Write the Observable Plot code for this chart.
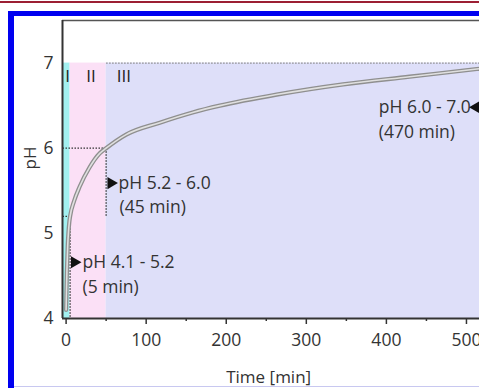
<!DOCTYPE html>
<html><head><meta charset="utf-8">
<script src="https://cdn.jsdelivr.net/npm/d3@7"></script>
<script src="https://cdn.jsdelivr.net/npm/@observablehq/plot@0.6"></script>
<style>
html,body{margin:0;padding:0;background:#fff;width:479px;height:388px;overflow:hidden;position:relative;font-family:"Open Sans",sans-serif}
#chart{position:absolute;left:0;top:0;width:514px}
#chart svg{max-width:none !important;display:block}
#red{position:absolute;left:0;top:1px;width:479px;height:2px;background:#9c1f33}
#blueTop{position:absolute;left:8px;top:11px;width:480px;height:5px;background:#0000f0}
#blueLeft{position:absolute;left:8px;top:11px;width:6px;height:390px;background:#0000f0}
#bottomLine{position:absolute;left:14px;top:386px;width:470px;height:1px;background:#c8c8f0}
</style></head><body>
<div id="chart"></div>
<div id="red"></div><div id="blueTop"></div><div id="blueLeft"></div><div id="bottomLine"></div>
<script>
// ---- data ----
const times = [0, 1, 2, 3, 4, 5, 10, 17, 29, 42, 50, 75, 117, 158, 192, 263, 346, 429, 513, 530];
const pHs   = [4.1, 4.55, 4.85, 5.02, 5.13, 5.2, 5.38, 5.55, 5.77, 5.94, 6.0, 6.16, 6.30, 6.42, 6.50, 6.63, 6.75, 6.84, 6.93, 6.95];

const xMin = -4.5, xMax = 560, yMin = 4, yMax = 7.5;
const phaseNames = ["I", "II", "III"];
const phaseFrom = [xMin, 5, 50];
const phaseTo = [5, 50, xMax];
const phaseTop = [7, 7, 7];
const phaseColors = ["#a2f0f0", "#fbe0f6", "#dedff9"];
const phaseLabelT = [2, 31, 72];
const phaseLabelPH = [6.84, 6.84, 6.84];

const xTicks = [0, 100, 200, 300, 400, 500];
const xMinorTicks = [50, 150, 250, 350, 450];
const yTicks = [4, 5, 6, 7];

// dotted guide lines
const dotX1 = [xMin, 50, xMin, 5, 50];
const dotY1 = [6, 6, 5.2, 5.2, 7];
const dotX2 = [50, 50, 5, 5, xMax];
const dotY2 = [6, 5.2, 5.2, 4, 7];
const dotColor = ["#333", "#333", "#333", "#333", "#8a8a8a"];

// annotations (left-anchored)
const annText = ["pH 4.1 - 5.2", "(5 min)", "pH 5.2 - 6.0", "(45 min)", "(470 min)"];
const annT = [20.5, 20.5, 65.5, 66.8, 390.5];
const annPH = [4.66, 4.37, 5.59, 5.31, 6.18];
// annotation (right-anchored)
const annEndText = ["pH 6.0 - 7.0"];
const annEndT = [505.5];
const annEndPH = [6.48];

const arrowT = [10.5, 56, 512];
const arrowPH = [4.66, 5.59, 6.48];
const arrowRotate = [90, 90, -90];

const curve = times.map((t, i) => ({t, pH: pHs[i]}));
const idx = a => a.map((_, i) => i);

const chart = Plot.plot({
  width: 514, height: 388,
  marginLeft: 62, marginRight: 0, marginTop: 20, marginBottom: 70,
  x: {domain: [xMin, xMax]},
  y: {domain: [yMin, yMax]},
  style: {fontFamily: "'Open Sans', sans-serif", color: "#333", background: "transparent", maxWidth: "none"},
  marks: [
    Plot.rect(idx(phaseNames), {x1: i => phaseFrom[i], x2: i => phaseTo[i], y1: yMin, y2: i => phaseTop[i], fill: i => phaseColors[i]}),
    Plot.link(idx(dotX1), {x1: i => dotX1[i], y1: i => dotY1[i], x2: i => dotX2[i], y2: i => dotY2[i], stroke: i => dotColor[i], strokeWidth: 1.3, strokeDasharray: "1.5,1.5"}),
    Plot.line(curve, {x: "t", y: "pH", stroke: "#8f8f8f", strokeWidth: 4.2, curve: "monotone-x"}),
    Plot.line(curve, {x: "t", y: "pH", stroke: "#e0e0e0", strokeWidth: 1.6, curve: "monotone-x"}),
    Plot.text(idx(phaseNames), {x: i => phaseLabelT[i], y: i => phaseLabelPH[i], text: i => phaseNames[i], fontSize: 17, fill: "#222"}),
    Plot.text(idx(annText), {x: i => annT[i], y: i => annPH[i], text: i => annText[i], textAnchor: "start", fontSize: 17.5, fill: "#333"}),
    Plot.text(idx(annEndText), {x: i => annEndT[i], y: i => annEndPH[i], text: i => annEndText[i], textAnchor: "end", fontSize: 17.5, fill: "#333"}),
    Plot.dot(idx(arrowT), {x: i => arrowT[i], y: i => arrowPH[i], symbol: "triangle", r: 4.5, rotate: i => arrowRotate[i], fill: "#111", stroke: null}),
    Plot.ruleY([yMax], {stroke: "#555", strokeWidth: 1.5}),
    Plot.ruleY([yMin], {stroke: "#333", strokeWidth: 2}),
    Plot.ruleX([xMin], {stroke: "#333", strokeWidth: 2}),
    Plot.axisX({ticks: xTicks, tickSize: 6, tickPadding: 9, label: null, fontSize: 17.5, stroke: "#333", strokeWidth: 1.5, fill: "#333"}),
    Plot.axisX({ticks: xMinorTicks, tickSize: 3, text: null, label: null, stroke: "#333", strokeWidth: 1.5}),
    Plot.axisY({ticks: yTicks, tickSize: 0, tickPadding: 9, tickFormat: d3.format("d"), label: null, fontSize: 17.5, fill: "#333"}),
    Plot.text(["Time [min]"], {frameAnchor: "bottom", x: 253, dy: 64, fontSize: 17, fill: "#333"}),
    Plot.text(["pH"], {frameAnchor: "left", dx: -32, rotate: -90, fontSize: 17, fill: "#333"})
  ]
});
document.getElementById("chart").append(chart);
</script>
</body></html>
